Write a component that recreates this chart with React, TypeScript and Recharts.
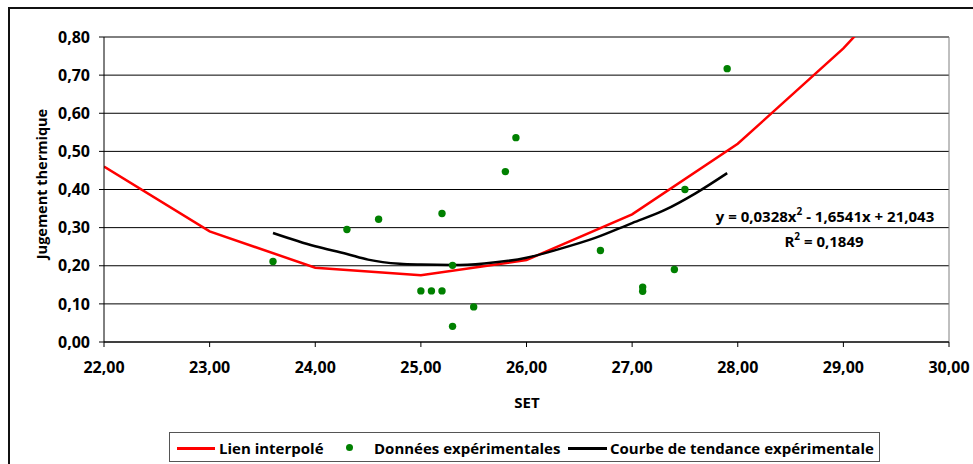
import React from "react"
import {
  ComposedChart,
  Line,
  Scatter,
  XAxis,
  YAxis,
  CartesianGrid,
  ReferenceLine,
} from "recharts"

// Lien interpolé (SET -> jugement)
const INTERP_SET = [22, 23, 24, 25, 26, 27, 28, 29, 30]
const INTERP_VALUES = [0.46, 0.29, 0.195, 0.175, 0.215, 0.335, 0.52, 0.77, 1.07]

// Données expérimentales
const EXP_SET = [23.6, 24.3, 24.6, 25.2, 25.3, 25.0, 25.1, 25.2, 25.5, 25.3, 25.8, 25.9, 26.7, 27.1, 27.1, 27.4, 27.5, 27.9]
const EXP_VALUES = [0.211, 0.295, 0.322, 0.337, 0.201, 0.134, 0.134, 0.134, 0.092, 0.041, 0.447, 0.536, 0.24, 0.144, 0.133, 0.19, 0.4, 0.717]

// Courbe de tendance
const TREND_SET = [23.6, 24.0, 24.3, 24.5, 24.8, 25.0, 25.3, 25.6, 26.0, 26.3, 26.65, 27.0, 27.3, 27.6, 27.9]
const TREND_VALUES = [0.286, 0.251, 0.231, 0.216, 0.205, 0.203, 0.202, 0.206, 0.221, 0.243, 0.273, 0.312, 0.345, 0.39, 0.443]

const X_TICKS = [22, 23, 24, 25, 26, 27, 28, 29, 30]
const Y_TICKS = [0, 0.1, 0.2, 0.3, 0.4, 0.5, 0.6, 0.7, 0.8]

const FONT = '"Open Sans", sans-serif'
const fmt = (v: number) => v.toFixed(2).replace(".", ",")

const interpData = INTERP_SET.map((x, i) => ({ x, y: INTERP_VALUES[i] }))
const expData = EXP_SET.map((x, i) => ({ x, y: EXP_VALUES[i] }))
const trendData = TREND_SET.map((x, i) => ({ x, y: TREND_VALUES[i] }))

const tickStyle = { fontSize: 16, fill: "#000", fontWeight: 700, fontFamily: FONT }

const supStyle: React.CSSProperties = { fontSize: 10, position: "relative", top: -7, lineHeight: 0 }

export default function App() {
  return (
    <div
      style={{
        position: "absolute",
        left: 0,
        top: 0,
        width: 973,
        height: 464,
        overflow: "hidden",
        background: "#fff",
        fontFamily: FONT,
        fontWeight: 700,
        color: "#000",
      }}
    >
      {/* chart frame, runs off the right and bottom edges */}
      <div
        style={{
          position: "absolute",
          left: 8,
          top: 7,
          width: 1100,
          height: 600,
          border: "2px solid #111",
        }}
      />
      <div style={{ position: "absolute", left: 0, top: 0 }}>
        <ComposedChart width={973} height={464} margin={{ top: 37, right: 24, left: 0, bottom: 62 }}>
          <CartesianGrid horizontal vertical={false} stroke="#000" strokeOpacity={1} />
          <XAxis
            type="number"
            dataKey="x"
            domain={[22, 30]}
            ticks={X_TICKS}
            tickFormatter={fmt}
            height={60}
            stroke="#000"
            tickSize={5}
            tickMargin={15}
            tick={tickStyle}
            allowDataOverflow
          />
          <YAxis
            type="number"
            dataKey="y"
            domain={[0, 0.8]}
            ticks={Y_TICKS}
            tickFormatter={fmt}
            width={104}
            stroke="#000"
            tickSize={5}
            tickMargin={9}
            tick={tickStyle}
            allowDataOverflow
          />
          <ReferenceLine y={0.8} stroke="#808080" />
          <ReferenceLine x={30} stroke="#808080" />
          <Line
            data={interpData}
            dataKey="y"
            type="linear"
            stroke="#ff0000"
            strokeWidth={2.5}
            dot={false}
            isAnimationActive={false}
          />
          <Line
            data={trendData}
            dataKey="y"
            type="monotone"
            stroke="#000"
            strokeWidth={2.5}
            dot={false}
            isAnimationActive={false}
          />
          <Scatter
            data={expData}
            dataKey="y"
            fill="#008000"
            shape={(p: any) => <circle cx={p.cx} cy={p.cy} r={3.7} fill="#008000" />}
            isAnimationActive={false}
          />
        </ComposedChart>
      </div>

      {/* axis titles */}
      <div
        style={{
          position: "absolute",
          left: 41,
          top: 184,
          transform: "translate(-50%, -50%) rotate(-90deg)",
          fontSize: 14.5,
          whiteSpace: "nowrap",
        }}
      >
        Jugement thermique
      </div>
      <div
        style={{
          position: "absolute",
          left: 527,
          top: 402,
          transform: "translate(-50%, -50%)",
          fontSize: 15,
        }}
      >
        SET
      </div>

      {/* trend equation */}
      <div
        style={{
          position: "absolute",
          left: 825,
          top: 216,
          transform: "translate(-50%, -50%)",
          fontSize: 15,
          lineHeight: "20px",
          whiteSpace: "nowrap",
        }}
      >
        y = 0,0328x<span style={supStyle}>2</span> - 1,6541x + 21,043
      </div>
      <div
        style={{
          position: "absolute",
          left: 824,
          top: 241,
          transform: "translate(-50%, -50%)",
          fontSize: 15,
          lineHeight: "20px",
          whiteSpace: "nowrap",
        }}
      >
        R<span style={supStyle}>2</span> = 0,1849
      </div>

      {/* legend */}
      <div
        style={{
          position: "absolute",
          left: 169,
          top: 432,
          width: 711,
          height: 30,
          border: "1px solid #555",
          boxSizing: "border-box",
          fontSize: 15,
        }}
      >
        <div style={{ position: "absolute", left: 7, top: 14, width: 38, height: 2.5, background: "#ff0000" }} />
        <div style={{ position: "absolute", left: 49, top: 5, lineHeight: "20px" }}>Lien interpolé</div>
        <div
          style={{ position: "absolute", left: 176, top: 11, width: 7.4, height: 7.4, borderRadius: "50%", background: "#008000" }}
        />
        <div style={{ position: "absolute", left: 204, top: 5, lineHeight: "20px" }}>Données expérimentales</div>
        <div style={{ position: "absolute", left: 398, top: 14, width: 39, height: 2.5, background: "#000" }} />
        <div style={{ position: "absolute", left: 440, top: 5, lineHeight: "20px" }}>Courbe de tendance expérimentale</div>
      </div>
    </div>
  )
}
